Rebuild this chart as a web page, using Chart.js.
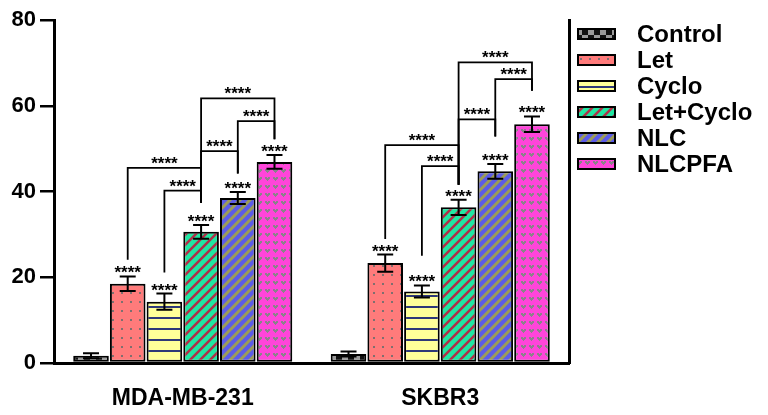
<!DOCTYPE html>
<html>
<head>
<meta charset="utf-8">
<script src="https://cdn.jsdelivr.net/npm/chart.js@4"></script>
<style>
  body { margin: 0; background: #fff; }
</style>
</head>
<body>
<canvas id="chart" width="768" height="415"></canvas>
<script>
const groups = ['MDA-MB-231', 'SKBR3'];
const seriesNames = ['Control', 'Let', 'Cyclo', 'Let+Cyclo', 'NLC', 'NLCPFA'];

const controlVals = [1.7, 2.1];
const letVals = [18.5, 23.3];
const cycloVals = [14.3, 16.7];
const letCycloVals = [30.6, 36.3];
const nlcVals = [38.5, 44.7];
const nlcpfaVals = [46.9, 55.7];

const controlErr = [0.6, 0.6];
const letErr = [1.7, 2.0];
const cycloErr = [1.9, 1.4];
const letCycloErr = [1.6, 1.8];
const nlcErr = [1.4, 1.7];
const nlcpfaErr = [1.6, 1.8];

const yMin = 0, yMax = 80, yStep = 20;

// significance brackets: [fromSeries, toSeries, barHeight, leftLegEnd, rightLegEnd]
const bracketsMDA = [
    [1, 3, 45.5, 24.1, 37.4],
    [2, 3, 40.2, 21.1, 37.4],
    [3, 4, 49.4, 37.4, 44.2],
    [4, 5, 56.4, 44.2, 52.2],
    [3, 5, 61.7, 37.4, 52.2]
];
const bracketsSKBR3 = [
    [1, 3, 50.8, 28.9, 41.6],
    [2, 3, 45.9, 25.0, 41.6],
    [3, 4, 56.8, 41.6, 52.8],
    [4, 5, 66.2, 52.8, 63.5],
    [3, 5, 70.1, 41.6, 63.5]
];
const sigLabel = '****';

const allVals = [controlVals, letVals, cycloVals, letCycloVals, nlcVals, nlcpfaVals];
const allErrs = [controlErr, letErr, cycloErr, letCycloErr, nlcErr, nlcpfaErr];
const allBrackets = [bracketsMDA, bracketsSKBR3];

const canvas = document.getElementById('chart');
const ctx = canvas.getContext('2d');

function makePattern(w, h, draw) {
    const c = document.createElement('canvas');
    c.width = w;
    c.height = h;
    const g = c.getContext('2d');
    draw(g, w, h);
    return ctx.createPattern(c, 'repeat');
}

function stripes(bg, fg, s, lw) {
    return makePattern(s, s, (g) => {
        g.fillStyle = bg;
        g.fillRect(0, 0, s, s);
        g.strokeStyle = fg;
        g.lineWidth = lw;
        g.beginPath();
        g.moveTo(-1, s + 1); g.lineTo(s + 1, -1);
        g.moveTo(-1, 1); g.lineTo(1, -1);
        g.moveTo(s - 1, s + 1); g.lineTo(s + 1, s - 1);
        g.stroke();
    });
}

const patterns = [
    makePattern(12, 10, (g) => {
        g.fillStyle = '#111';
        g.fillRect(0, 0, 12, 10);
        g.fillStyle = '#9a9a9a';
        g.fillRect(0, 0, 6, 5);
        g.fillRect(6, 5, 6, 5);
    }),
    makePattern(9, 9, (g) => {
        g.fillStyle = '#ff7b7b';
        g.fillRect(0, 0, 9, 9);
        g.fillStyle = '#7f6f6f';
        g.fillRect(4, 4, 2, 2);
    }),
    makePattern(10, 11, (g) => {
        g.fillStyle = '#ffff99';
        g.fillRect(0, 0, 10, 11);
        g.fillStyle = '#2e3878';
        g.fillRect(0, 9, 10, 2);
    }),
    stripes('#20e6a2', '#b03048', 10, 2.5),
    stripes('#5c5ce8', '#9c9c58', 10, 3),
    makePattern(8, 8, (g) => {
        g.fillStyle = '#ff45da';
        g.fillRect(0, 0, 8, 8);
        g.fillStyle = '#8a828a';
        g.fillRect(1, 1, 2, 1);
        g.fillRect(4, 1, 2, 1);
        g.fillRect(1, 2, 5, 1);
        g.fillRect(2, 3, 3, 1);
        g.fillRect(3, 4, 1, 1);
    })
];

const annotations = {
    id: 'annotations',
    afterDatasetsDraw(chart) {
        const c = chart.ctx;
        const y = chart.scales.y;
        c.save();
        c.strokeStyle = '#000';
        c.fillStyle = '#000';
        c.textAlign = 'center';
        c.textBaseline = 'alphabetic';
        c.font = 'bold 17px "Liberation Sans", Arial, sans-serif';

        // error bars + stars above bars
        allVals.forEach((vals, i) => {
            chart.getDatasetMeta(i).data.forEach((bar, j) => {
                const top = y.getPixelForValue(vals[j] + allErrs[i][j]);
                const bot = y.getPixelForValue(vals[j] - allErrs[i][j]);
                c.lineWidth = 2;
                c.beginPath();
                c.moveTo(bar.x, top); c.lineTo(bar.x, bot);
                c.moveTo(bar.x - 8, top); c.lineTo(bar.x + 8, top);
                c.moveTo(bar.x - 8, bot); c.lineTo(bar.x + 8, bot);
                c.stroke();
                if (i > 0) c.fillText(sigLabel, bar.x, top + 2);
            });
        });

        // comparison brackets
        allBrackets.forEach((list, g) => {
            list.forEach(([from, to, h, l, r]) => {
                const x1 = chart.getDatasetMeta(from).data[g].x;
                const x2 = chart.getDatasetMeta(to).data[g].x;
                const yy = y.getPixelForValue(h);
                c.lineWidth = 1.8;
                c.beginPath();
                c.moveTo(x1, y.getPixelForValue(l));
                c.lineTo(x1, yy);
                c.lineTo(x2, yy);
                c.lineTo(x2, y.getPixelForValue(r));
                c.stroke();
                c.fillText(sigLabel, (x1 + x2) / 2, yy + 1);
            });
        });
        c.restore();
    },
    afterDraw(chart) {
        const c = chart.ctx;
        c.save();
        c.font = 'bold 24px "Liberation Sans", Arial, sans-serif';
        c.textBaseline = 'middle';
        c.textAlign = 'left';
        seriesNames.forEach((name, i) => {
            const cy = 34 + i * 26;
            c.fillStyle = patterns[i];
            c.fillRect(578, cy - 5, 37, 10);
            c.lineWidth = 2;
            c.strokeStyle = '#000';
            c.strokeRect(578, cy - 5, 37, 10);
            c.fillStyle = '#000';
            c.fillText(name, 637, cy + 1);
        });
        c.restore();
    }
};

const chart = new Chart(ctx, {
    type: 'bar',
    data: {
        labels: groups,
        datasets: seriesNames.map((name, i) => ({
            label: name,
            data: allVals[i],
            backgroundColor: patterns[i],
            borderColor: '#000',
            borderWidth: 2,
            borderSkipped: false,
            categoryPercentage: 0.855,
            barPercentage: 0.97
        }))
    },
    options: {
        responsive: false,
        animation: false,
        layout: { padding: { top: 20, right: 199, bottom: 0, left: 0 } },
        plugins: {
            legend: { display: false },
            tooltip: { enabled: false }
        },
        scales: {
            x: {
                grid: { display: false },
                border: { display: true, color: '#000', width: 3 },
                ticks: {
                    color: '#000',
                    padding: 14,
                    font: { family: '"Liberation Sans", Arial, sans-serif', size: 23, weight: 'bold' }
                },
                afterFit(scale) { scale.height = 52; }
            },
            y: {
                min: yMin,
                max: yMax,
                ticks: {
                    stepSize: yStep,
                    color: '#000',
                    padding: 4,
                    font: { family: '"Liberation Sans", Arial, sans-serif', size: 22, weight: 'bold' }
                },
                grid: { drawOnChartArea: false, drawTicks: true, tickLength: 14, color: '#000', lineWidth: 2.5 },
                border: { display: true, color: '#000', width: 3 },
                afterFit(scale) { scale.width = 54; }
            },
            y2: {
                position: 'right',
                min: yMin,
                max: yMax,
                grid: { display: false },
                ticks: { display: false },
                border: { display: true, color: '#000', width: 3 },
                afterFit(scale) { scale.width = 0; }
            }
        }
    },
    plugins: [annotations]
});
</script>
</body>
</html>
